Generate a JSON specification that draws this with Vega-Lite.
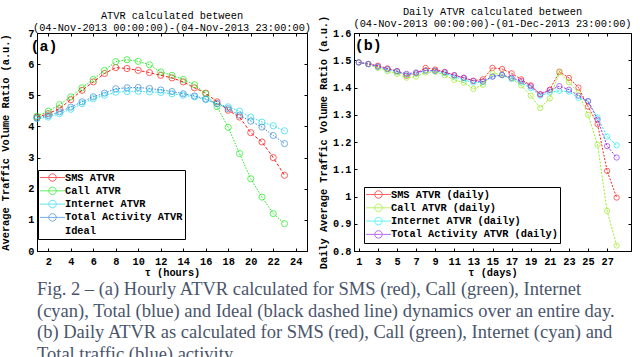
{
  "$schema": "https://vega.github.io/schema/vega-lite/v6.json",
  "padding": {"left": 0, "top": 6, "right": 0, "bottom": 0},
  "background": "white",
  "resolve": {"scale": {"color": "independent"}, "legend": {"color": "independent"}},
  "config": {
    "font": "Liberation Mono",
    "view": {"stroke": "black", "strokeWidth": 1},
    "concat": {"spacing": 5},
    "axis": {
      "grid": false, "domainColor": "black", "tickColor": "black",
      "labelColor": "black", "titleColor": "black",
      "labelFont": "Liberation Mono", "titleFont": "Liberation Mono",
      "labelFontSize": 10.3, "titleFontSize": 10.3,
      "labelFontWeight": "bold", "titleFontWeight": "bold",
      "tickSize": -3, "labelPadding": 6, "domainWidth": 1
    },
    "axisX": {"labelPadding": 8, "titlePadding": 1},
    "legend": {
      "title": null,
      "symbolType": "M-2.5,0L2.5,0M-0.75,0A0.75,0.75 0 1,1 0.75,0A0.75,0.75 0 1,1 -0.75,0",
      "symbolSize": 100, "symbolStrokeWidth": 1, "symbolFillColor": "transparent",
      "symbolOffset": 7, "labelOffset": 7, "padding": 2, "rowPadding": 0.3,
      "strokeColor": "black", "fillColor": "white", "labelLimit": 300,
      "labelFont": "Liberation Mono", "labelFontSize": 10.3, "labelFontWeight": "bold", "labelColor": "black"
    },
    "title": {"font": "Liberation Mono", "fontSize": 10.3, "fontWeight": "normal", "color": "black", "lineHeight": 12, "frame": "group"}
  },
  "title": {
    "text": [
      "Fig. 2 – (a) Hourly ATVR calculated for SMS (red), Call (green), Internet",
      "(cyan), Total (blue) and Ideal (black dashed line) dynamics over an entire day.",
      "(b) Daily ATVR as calculated for SMS (red), Call (green), Internet (cyan) and",
      "Total traffic (blue) activity."
    ],
    "orient": "bottom", "anchor": "start", "frame": "group",
    "font": "Liberation Serif", "fontSize": 18.5, "fontWeight": "normal",
    "color": "#4a556b", "lineHeight": 21.5, "offset": 2
  },
  "datasets": {
    "hourly": [
      {"hour": 1, "series": "SMS ATVR", "value": 4.30}, {"hour": 1, "series": "Call ATVR", "value": 4.33}, {"hour": 1, "series": "Internet ATVR", "value": 4.25}, {"hour": 1, "series": "Total Activity ATVR", "value": 4.27},
      {"hour": 2, "series": "SMS ATVR", "value": 4.41}, {"hour": 2, "series": "Call ATVR", "value": 4.49}, {"hour": 2, "series": "Internet ATVR", "value": 4.30}, {"hour": 2, "series": "Total Activity ATVR", "value": 4.35},
      {"hour": 3, "series": "SMS ATVR", "value": 4.57}, {"hour": 3, "series": "Call ATVR", "value": 4.70}, {"hour": 3, "series": "Internet ATVR", "value": 4.41}, {"hour": 3, "series": "Total Activity ATVR", "value": 4.47},
      {"hour": 4, "series": "SMS ATVR", "value": 4.86}, {"hour": 4, "series": "Call ATVR", "value": 4.95}, {"hour": 4, "series": "Internet ATVR", "value": 4.55}, {"hour": 4, "series": "Total Activity ATVR", "value": 4.62},
      {"hour": 5, "series": "SMS ATVR", "value": 5.16}, {"hour": 5, "series": "Call ATVR", "value": 5.24}, {"hour": 5, "series": "Internet ATVR", "value": 4.73}, {"hour": 5, "series": "Total Activity ATVR", "value": 4.79},
      {"hour": 6, "series": "SMS ATVR", "value": 5.43}, {"hour": 6, "series": "Call ATVR", "value": 5.51}, {"hour": 6, "series": "Internet ATVR", "value": 4.89}, {"hour": 6, "series": "Total Activity ATVR", "value": 4.95},
      {"hour": 7, "series": "SMS ATVR", "value": 5.70}, {"hour": 7, "series": "Call ATVR", "value": 5.80}, {"hour": 7, "series": "Internet ATVR", "value": 5.00}, {"hour": 7, "series": "Total Activity ATVR", "value": 5.07},
      {"hour": 8, "series": "SMS ATVR", "value": 5.89}, {"hour": 8, "series": "Call ATVR", "value": 6.08}, {"hour": 8, "series": "Internet ATVR", "value": 5.10}, {"hour": 8, "series": "Total Activity ATVR", "value": 5.21},
      {"hour": 9, "series": "SMS ATVR", "value": 5.86}, {"hour": 9, "series": "Call ATVR", "value": 6.14}, {"hour": 9, "series": "Internet ATVR", "value": 5.12}, {"hour": 9, "series": "Total Activity ATVR", "value": 5.24},
      {"hour": 10, "series": "SMS ATVR", "value": 5.80}, {"hour": 10, "series": "Call ATVR", "value": 6.09}, {"hour": 10, "series": "Internet ATVR", "value": 5.13}, {"hour": 10, "series": "Total Activity ATVR", "value": 5.25},
      {"hour": 11, "series": "SMS ATVR", "value": 5.73}, {"hour": 11, "series": "Call ATVR", "value": 5.98}, {"hour": 11, "series": "Internet ATVR", "value": 5.11}, {"hour": 11, "series": "Total Activity ATVR", "value": 5.22},
      {"hour": 12, "series": "SMS ATVR", "value": 5.64}, {"hour": 12, "series": "Call ATVR", "value": 5.75}, {"hour": 12, "series": "Internet ATVR", "value": 5.09}, {"hour": 12, "series": "Total Activity ATVR", "value": 5.17},
      {"hour": 13, "series": "SMS ATVR", "value": 5.56}, {"hour": 13, "series": "Call ATVR", "value": 5.64}, {"hour": 13, "series": "Internet ATVR", "value": 5.05}, {"hour": 13, "series": "Total Activity ATVR", "value": 5.12},
      {"hour": 14, "series": "SMS ATVR", "value": 5.43}, {"hour": 14, "series": "Call ATVR", "value": 5.51}, {"hour": 14, "series": "Internet ATVR", "value": 5.00}, {"hour": 14, "series": "Total Activity ATVR", "value": 5.05},
      {"hour": 15, "series": "SMS ATVR", "value": 5.24}, {"hour": 15, "series": "Call ATVR", "value": 5.34}, {"hour": 15, "series": "Internet ATVR", "value": 4.95}, {"hour": 15, "series": "Total Activity ATVR", "value": 4.98},
      {"hour": 16, "series": "SMS ATVR", "value": 5.07}, {"hour": 16, "series": "Call ATVR", "value": 5.05}, {"hour": 16, "series": "Internet ATVR", "value": 4.86}, {"hour": 16, "series": "Total Activity ATVR", "value": 4.88},
      {"hour": 17, "series": "SMS ATVR", "value": 4.79}, {"hour": 17, "series": "Call ATVR", "value": 4.64}, {"hour": 17, "series": "Internet ATVR", "value": 4.73}, {"hour": 17, "series": "Total Activity ATVR", "value": 4.73},
      {"hour": 18, "series": "SMS ATVR", "value": 4.52}, {"hour": 18, "series": "Call ATVR", "value": 3.97}, {"hour": 18, "series": "Internet ATVR", "value": 4.63}, {"hour": 18, "series": "Total Activity ATVR", "value": 4.57},
      {"hour": 19, "series": "SMS ATVR", "value": 4.30}, {"hour": 19, "series": "Call ATVR", "value": 3.13}, {"hour": 19, "series": "Internet ATVR", "value": 4.49}, {"hour": 19, "series": "Total Activity ATVR", "value": 4.36},
      {"hour": 20, "series": "SMS ATVR", "value": 3.80}, {"hour": 20, "series": "Call ATVR", "value": 2.32}, {"hour": 20, "series": "Internet ATVR", "value": 4.30}, {"hour": 20, "series": "Total Activity ATVR", "value": 4.17},
      {"hour": 21, "series": "SMS ATVR", "value": 3.50}, {"hour": 21, "series": "Call ATVR", "value": 1.73}, {"hour": 21, "series": "Internet ATVR", "value": 4.14}, {"hour": 21, "series": "Total Activity ATVR", "value": 3.98},
      {"hour": 22, "series": "SMS ATVR", "value": 3.00}, {"hour": 22, "series": "Call ATVR", "value": 1.20}, {"hour": 22, "series": "Internet ATVR", "value": 4.02}, {"hour": 22, "series": "Total Activity ATVR", "value": 3.71},
      {"hour": 23, "series": "SMS ATVR", "value": 2.43}, {"hour": 23, "series": "Call ATVR", "value": 0.88}, {"hour": 23, "series": "Internet ATVR", "value": 3.86}, {"hour": 23, "series": "Total Activity ATVR", "value": 3.45}
    ],
    "daily": [
      {"day": 1, "series": "SMS ATVR (daily)", "value": 1.492}, {"day": 1, "series": "Call ATVR (daily)", "value": 1.492}, {"day": 1, "series": "Internet ATVR (daily)", "value": 1.492}, {"day": 1, "series": "Total Activity ATVR (daily)", "value": 1.492},
      {"day": 2, "series": "SMS ATVR (daily)", "value": 1.487}, {"day": 2, "series": "Call ATVR (daily)", "value": 1.485}, {"day": 2, "series": "Internet ATVR (daily)", "value": 1.486}, {"day": 2, "series": "Total Activity ATVR (daily)", "value": 1.486},
      {"day": 3, "series": "SMS ATVR (daily)", "value": 1.480}, {"day": 3, "series": "Call ATVR (daily)", "value": 1.472}, {"day": 3, "series": "Internet ATVR (daily)", "value": 1.476}, {"day": 3, "series": "Total Activity ATVR (daily)", "value": 1.477},
      {"day": 4, "series": "SMS ATVR (daily)", "value": 1.470}, {"day": 4, "series": "Call ATVR (daily)", "value": 1.460}, {"day": 4, "series": "Internet ATVR (daily)", "value": 1.466}, {"day": 4, "series": "Total Activity ATVR (daily)", "value": 1.468},
      {"day": 5, "series": "SMS ATVR (daily)", "value": 1.460}, {"day": 5, "series": "Call ATVR (daily)", "value": 1.450}, {"day": 5, "series": "Internet ATVR (daily)", "value": 1.457}, {"day": 5, "series": "Total Activity ATVR (daily)", "value": 1.460},
      {"day": 6, "series": "SMS ATVR (daily)", "value": 1.443}, {"day": 6, "series": "Call ATVR (daily)", "value": 1.436}, {"day": 6, "series": "Internet ATVR (daily)", "value": 1.447}, {"day": 6, "series": "Total Activity ATVR (daily)", "value": 1.450},
      {"day": 7, "series": "SMS ATVR (daily)", "value": 1.452}, {"day": 7, "series": "Call ATVR (daily)", "value": 1.440}, {"day": 7, "series": "Internet ATVR (daily)", "value": 1.452}, {"day": 7, "series": "Total Activity ATVR (daily)", "value": 1.455},
      {"day": 8, "series": "SMS ATVR (daily)", "value": 1.472}, {"day": 8, "series": "Call ATVR (daily)", "value": 1.455}, {"day": 8, "series": "Internet ATVR (daily)", "value": 1.462}, {"day": 8, "series": "Total Activity ATVR (daily)", "value": 1.462},
      {"day": 9, "series": "SMS ATVR (daily)", "value": 1.466}, {"day": 9, "series": "Call ATVR (daily)", "value": 1.458}, {"day": 9, "series": "Internet ATVR (daily)", "value": 1.460}, {"day": 9, "series": "Total Activity ATVR (daily)", "value": 1.462},
      {"day": 10, "series": "SMS ATVR (daily)", "value": 1.457}, {"day": 10, "series": "Call ATVR (daily)", "value": 1.445}, {"day": 10, "series": "Internet ATVR (daily)", "value": 1.452}, {"day": 10, "series": "Total Activity ATVR (daily)", "value": 1.456},
      {"day": 11, "series": "SMS ATVR (daily)", "value": 1.445}, {"day": 11, "series": "Call ATVR (daily)", "value": 1.428}, {"day": 11, "series": "Internet ATVR (daily)", "value": 1.440}, {"day": 11, "series": "Total Activity ATVR (daily)", "value": 1.445},
      {"day": 12, "series": "SMS ATVR (daily)", "value": 1.435}, {"day": 12, "series": "Call ATVR (daily)", "value": 1.418}, {"day": 12, "series": "Internet ATVR (daily)", "value": 1.428}, {"day": 12, "series": "Total Activity ATVR (daily)", "value": 1.436},
      {"day": 13, "series": "SMS ATVR (daily)", "value": 1.425}, {"day": 13, "series": "Call ATVR (daily)", "value": 1.395}, {"day": 13, "series": "Internet ATVR (daily)", "value": 1.418}, {"day": 13, "series": "Total Activity ATVR (daily)", "value": 1.424},
      {"day": 14, "series": "SMS ATVR (daily)", "value": 1.430}, {"day": 14, "series": "Call ATVR (daily)", "value": 1.410}, {"day": 14, "series": "Internet ATVR (daily)", "value": 1.420}, {"day": 14, "series": "Total Activity ATVR (daily)", "value": 1.422},
      {"day": 15, "series": "SMS ATVR (daily)", "value": 1.472}, {"day": 15, "series": "Call ATVR (daily)", "value": 1.452}, {"day": 15, "series": "Internet ATVR (daily)", "value": 1.440}, {"day": 15, "series": "Total Activity ATVR (daily)", "value": 1.440},
      {"day": 16, "series": "SMS ATVR (daily)", "value": 1.468}, {"day": 16, "series": "Call ATVR (daily)", "value": 1.448}, {"day": 16, "series": "Internet ATVR (daily)", "value": 1.445}, {"day": 16, "series": "Total Activity ATVR (daily)", "value": 1.446},
      {"day": 17, "series": "SMS ATVR (daily)", "value": 1.452}, {"day": 17, "series": "Call ATVR (daily)", "value": 1.432}, {"day": 17, "series": "Internet ATVR (daily)", "value": 1.432}, {"day": 17, "series": "Total Activity ATVR (daily)", "value": 1.436},
      {"day": 18, "series": "SMS ATVR (daily)", "value": 1.430}, {"day": 18, "series": "Call ATVR (daily)", "value": 1.408}, {"day": 18, "series": "Internet ATVR (daily)", "value": 1.418}, {"day": 18, "series": "Total Activity ATVR (daily)", "value": 1.424},
      {"day": 19, "series": "SMS ATVR (daily)", "value": 1.408}, {"day": 19, "series": "Call ATVR (daily)", "value": 1.370}, {"day": 19, "series": "Internet ATVR (daily)", "value": 1.398}, {"day": 19, "series": "Total Activity ATVR (daily)", "value": 1.405},
      {"day": 20, "series": "SMS ATVR (daily)", "value": 1.375}, {"day": 20, "series": "Call ATVR (daily)", "value": 1.325}, {"day": 20, "series": "Internet ATVR (daily)", "value": 1.370}, {"day": 20, "series": "Total Activity ATVR (daily)", "value": 1.375},
      {"day": 21, "series": "SMS ATVR (daily)", "value": 1.392}, {"day": 21, "series": "Call ATVR (daily)", "value": 1.360}, {"day": 21, "series": "Internet ATVR (daily)", "value": 1.382}, {"day": 21, "series": "Total Activity ATVR (daily)", "value": 1.390},
      {"day": 22, "series": "SMS ATVR (daily)", "value": 1.458}, {"day": 22, "series": "Call ATVR (daily)", "value": 1.455}, {"day": 22, "series": "Internet ATVR (daily)", "value": 1.388}, {"day": 22, "series": "Total Activity ATVR (daily)", "value": 1.405},
      {"day": 23, "series": "SMS ATVR (daily)", "value": 1.435}, {"day": 23, "series": "Call ATVR (daily)", "value": 1.420}, {"day": 23, "series": "Internet ATVR (daily)", "value": 1.385}, {"day": 23, "series": "Total Activity ATVR (daily)", "value": 1.392},
      {"day": 24, "series": "SMS ATVR (daily)", "value": 1.400}, {"day": 24, "series": "Call ATVR (daily)", "value": 1.380}, {"day": 24, "series": "Internet ATVR (daily)", "value": 1.362}, {"day": 24, "series": "Total Activity ATVR (daily)", "value": 1.370},
      {"day": 25, "series": "SMS ATVR (daily)", "value": 1.330}, {"day": 25, "series": "Call ATVR (daily)", "value": 1.300}, {"day": 25, "series": "Internet ATVR (daily)", "value": 1.350}, {"day": 25, "series": "Total Activity ATVR (daily)", "value": 1.350},
      {"day": 26, "series": "SMS ATVR (daily)", "value": 1.265}, {"day": 26, "series": "Call ATVR (daily)", "value": 1.190}, {"day": 26, "series": "Internet ATVR (daily)", "value": 1.290}, {"day": 26, "series": "Total Activity ATVR (daily)", "value": 1.282},
      {"day": 27, "series": "SMS ATVR (daily)", "value": 1.094}, {"day": 27, "series": "Call ATVR (daily)", "value": 0.947}, {"day": 27, "series": "Internet ATVR (daily)", "value": 1.220}, {"day": 27, "series": "Total Activity ATVR (daily)", "value": 1.185},
      {"day": 28, "series": "SMS ATVR (daily)", "value": 0.996}, {"day": 28, "series": "Call ATVR (daily)", "value": 0.820}, {"day": 28, "series": "Internet ATVR (daily)", "value": 1.188}, {"day": 28, "series": "Total Activity ATVR (daily)", "value": 1.143}
    ]
  },
  "hconcat": [
    {
      "width": 270, "height": 218,
      "title": {"text": ["ATVR calculated between", "(04-Nov-2013 00:00:00)-(04-Nov-2013 23:00:00)"], "offset": -5},
      "layer": [
        {
          "data": {"name": "hourly"},
          "resolve": {"axis": {"x": "independent", "y": "independent"}},
          "layer": [
            {
              "mark": {"type": "point", "filled": false, "size": 38, "strokeWidth": 1},
              "encoding": {
                "x": {"field": "hour", "type": "quantitative", "scale": {"domain": [1, 25], "nice": false}, "axis": {"orient": "bottom", "title": "τ (hours)", "values": [2, 4, 6, 8, 10, 12, 14, 16, 18, 20, 22, 24]}},
                "y": {"field": "value", "type": "quantitative", "scale": {"domain": [0, 7], "nice": false}, "axis": {"orient": "left", "title": "Average Traffic Volume Ratio (a.u.)", "values": [0, 1, 2, 3, 4, 5, 6, 7], "titlePadding": 17}},
                "color": {"field": "series", "type": "nominal", "scale": {"domain": ["SMS ATVR", "Call ATVR", "Internet ATVR", "Total Activity ATVR", "Ideal"], "range": ["#ff1a1a", "#1aee1a", "#22ddee", "#3a8ad8", "#ffffff"]}, "legend": {"orient": "none", "legendX": 1, "legendY": 137}}
              }
            },
            {
              "transform": [{"filter": "datum.series === 'SMS ATVR'"}],
              "mark": {"type": "line", "strokeWidth": 1, "strokeDash": [3, 2]},
              "encoding": {
                "x": {"field": "hour", "type": "quantitative", "axis": {"orient": "top", "labels": false, "title": null, "domain": false, "values": [2, 4, 6, 8, 10, 12, 14, 16, 18, 20, 22, 24]}},
                "y": {"field": "value", "type": "quantitative", "axis": {"orient": "right", "labels": false, "title": null, "domain": false, "values": [0, 1, 2, 3, 4, 5, 6, 7]}},
                "color": {"field": "series", "type": "nominal", "legend": {"orient": "none", "legendX": 1, "legendY": 137}}
              }
            },
            {
              "transform": [{"filter": "datum.series !== 'SMS ATVR'"}],
              "mark": {"type": "line", "strokeWidth": 1, "strokeDash": [1.5, 1.5]},
              "encoding": {
                "x": {"field": "hour", "type": "quantitative", "axis": null},
                "y": {"field": "value", "type": "quantitative", "axis": null},
                "color": {"field": "series", "type": "nominal", "legend": {"orient": "none", "legendX": 1, "legendY": 137}}
              }
            }
          ]
        },
        {
          "data": {"values": [{}]},
          "mark": {"type": "text", "text": "(a)", "font": "Liberation Mono", "fontSize": 15, "fontWeight": "bold", "color": "black"},
          "encoding": {"x": {"datum": 1.63, "type": "quantitative", "axis": null}, "y": {"datum": 6.58, "type": "quantitative", "axis": null}}
        }
      ]
    },
    {
      "width": 277, "height": 218,
      "title": {"text": ["Daily ATVR calculated between", "(04-Nov-2013 00:00:00)-(01-Dec-2013 23:00:00)"], "offset": -14},
      "layer": [
        {
          "data": {"name": "daily"},
          "resolve": {"axis": {"x": "independent", "y": "independent"}},
          "layer": [
            {
              "mark": {"type": "point", "filled": false, "size": 28, "strokeWidth": 1},
              "encoding": {
                "x": {"field": "day", "type": "quantitative", "scale": {"domain": [0.5, 29.5], "nice": false}, "axis": {"orient": "bottom", "title": "τ (days)", "values": [1, 3, 5, 7, 9, 11, 13, 15, 17, 19, 21, 23, 25, 27]}},
                "y": {"field": "value", "type": "quantitative", "scale": {"domain": [0.8, 1.6], "nice": false, "zero": false}, "axis": {"orient": "left", "title": "Daily Average Traffic Volume Ratio (a.u.)", "values": [0.8, 0.9, 1, 1.1, 1.2, 1.3, 1.4, 1.5, 1.6], "format": ".1~f", "titlePadding": 4}},
                "color": {"field": "series", "type": "nominal", "scale": {"domain": ["SMS ATVR (daily)", "Call ATVR (daily)", "Internet ATVR (daily)", "Total Activity ATVR (daily)"], "range": ["#ff2222", "#99ee22", "#22eeee", "#9933ee"]}, "legend": {"orient": "none", "legendX": 10, "legendY": 154}}
              }
            },
            {
              "mark": {"type": "line", "strokeWidth": 1, "strokeDash": [2, 1.5]},
              "encoding": {
                "x": {"field": "day", "type": "quantitative", "axis": {"orient": "top", "labels": false, "title": null, "domain": false, "values": [1, 3, 5, 7, 9, 11, 13, 15, 17, 19, 21, 23, 25, 27]}},
                "y": {"field": "value", "type": "quantitative", "axis": {"orient": "right", "labels": false, "title": null, "domain": false, "values": [0.8, 0.9, 1, 1.1, 1.2, 1.3, 1.4, 1.5, 1.6]}},
                "color": {"field": "series", "type": "nominal", "legend": {"orient": "none", "legendX": 10, "legendY": 154}}
              }
            }
          ]
        },
        {
          "data": {"values": [{}]},
          "mark": {"type": "text", "text": "(b)", "font": "Liberation Mono", "fontSize": 15, "fontWeight": "bold", "color": "black"},
          "encoding": {"x": {"datum": 2.0, "type": "quantitative", "axis": null}, "y": {"datum": 1.557, "type": "quantitative", "axis": null}}
        }
      ]
    }
  ]
}
